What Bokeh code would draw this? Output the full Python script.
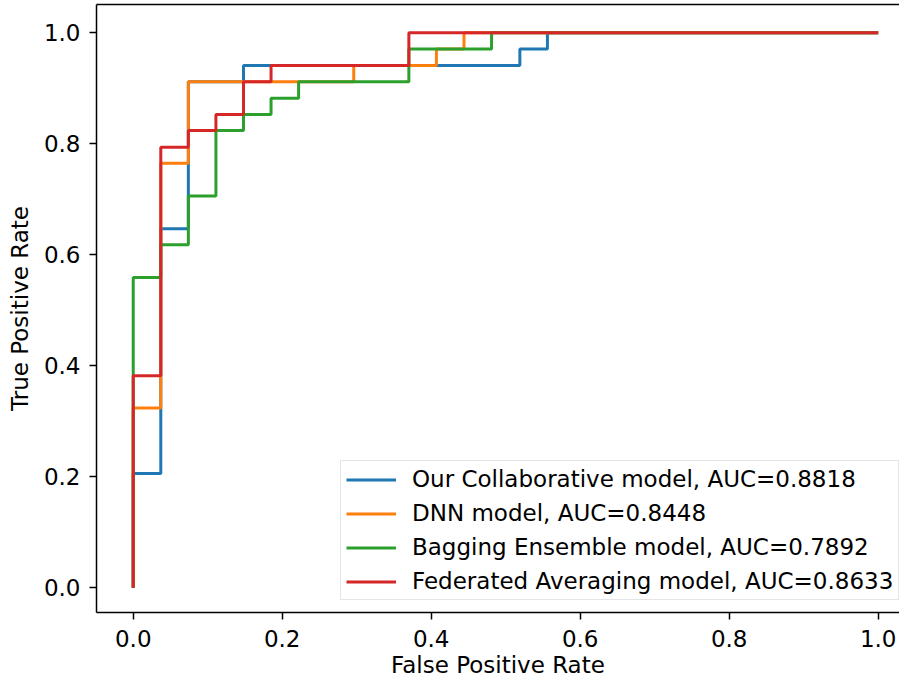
from bokeh.plotting import figure
from bokeh.models import Range1d, FixedTicker, PrintfTickFormatter, LinearAxis
from bokeh.embed import file_html
from bokeh.resources import INLINE

# ROC curve corner points
collab_fpr = [0.0, 0.0, 0.037, 0.037, 0.074, 0.074, 0.148, 0.148, 0.519, 0.519, 0.556, 0.556, 1.0]
collab_tpr = [0.0, 0.206, 0.206, 0.647, 0.647, 0.912, 0.912, 0.941, 0.941, 0.971, 0.971, 1.0, 1.0]

dnn_fpr = [0.0, 0.0, 0.037, 0.037, 0.074, 0.074, 0.296, 0.296, 0.407, 0.407, 0.444, 0.444, 1.0]
dnn_tpr = [0.0, 0.324, 0.324, 0.765, 0.765, 0.912, 0.912, 0.941, 0.941, 0.971, 0.971, 1.0, 1.0]

bag_fpr = [0.0, 0.0, 0.037, 0.037, 0.074, 0.074, 0.111, 0.111, 0.148, 0.148, 0.185, 0.185,
           0.222, 0.222, 0.370, 0.370, 0.481, 0.481, 1.0]
bag_tpr = [0.0, 0.559, 0.559, 0.618, 0.618, 0.706, 0.706, 0.824, 0.824, 0.853, 0.853, 0.882,
           0.882, 0.912, 0.912, 0.971, 0.971, 1.0, 1.0]

fed_fpr = [0.0, 0.0, 0.037, 0.037, 0.074, 0.074, 0.111, 0.111, 0.148, 0.148, 0.185, 0.185, 0.370, 0.370, 1.0]
fed_tpr = [0.0, 0.382, 0.382, 0.794, 0.794, 0.824, 0.824, 0.853, 0.853, 0.912, 0.912, 0.941, 0.941, 1.0, 1.0]

labels = [
    "Our Collaborative model, AUC=0.8818",
    "DNN model, AUC=0.8448",
    "Bagging Ensemble model, AUC=0.7892",
    "Federated Averaging model, AUC=0.8633",
]
colors = ["#1f77b4", "#ff7f0e", "#2ca02c", "#d62728"]
ticks = [0.0, 0.2, 0.4, 0.6, 0.8, 1.0]
x_title = "False Positive Rate"
y_title = "True Positive Rate"

FONT = "DejaVu Sans"
FS = "23px"

x_start, x_end = -0.0493, 1.0286
y_start, y_end = -0.0445, 1.051

p = figure(width=899, height=680, output_backend="svg", toolbar_location=None,
           x_range=Range1d(x_start, x_end), y_range=Range1d(y_start, y_end),
           min_border_left=96, min_border_right=0, min_border_top=4, min_border_bottom=68)
p.outline_line_color = None
p.xgrid.visible = False
p.ygrid.visible = False
p.background_fill_color = "white"

series = [(collab_fpr, collab_tpr), (dnn_fpr, dnn_tpr), (bag_fpr, bag_tpr), (fed_fpr, fed_tpr)]
for (fx, ty), c, lab in zip(series, colors, labels):
    p.line(fx, ty, line_color=c, line_width=3, legend_label=lab)

for ax in (p.xaxis[0], p.yaxis[0]):
    ax.ticker = FixedTicker(ticks=ticks)
    ax.formatter = PrintfTickFormatter(format="%.1f")
    ax.minor_tick_line_color = None
    ax.major_tick_in = 0
    ax.major_tick_out = 7
    ax.major_tick_line_width = 1.5
    ax.axis_line_width = 1.5
    ax.axis_line_color = "black"
    ax.major_tick_line_color = "black"
    ax.major_label_text_font = FONT
    ax.major_label_text_font_size = FS
    ax.major_label_text_color = "black"
    ax.axis_label_text_font = FONT
    ax.axis_label_text_font_size = FS
    ax.axis_label_text_font_style = "normal"
    ax.axis_label_text_color = "black"

p.xaxis[0].axis_label = x_title
p.yaxis[0].axis_label = y_title
p.xaxis[0].major_label_standoff = 10
p.xaxis[0].axis_label_standoff = 2
p.yaxis[0].major_label_standoff = 9
p.yaxis[0].axis_label_standoff = 8

# top spine (axis line only)
top = LinearAxis(ticker=FixedTicker(ticks=ticks), major_tick_out=0, major_tick_in=0,
                 minor_tick_out=0, minor_tick_in=0, major_tick_line_color=None,
                 minor_tick_line_color=None, major_label_text_font_size="0px",
                 major_label_text_color=None,
                 major_label_standoff=0, axis_line_width=1.5, axis_line_color="black")
p.add_layout(top, "above")

lg = p.legend[0]
lg.location = (244, 12)
lg.margin = 0
lg.padding = 5
lg.spacing = 8
lg.glyph_width = 50
lg.glyph_height = 21
lg.label_height = 21
lg.label_standoff = 16
lg.label_text_font = FONT
lg.label_text_font_size = FS
lg.label_text_color = "black"
lg.border_line_color = "#cccccc"
lg.border_line_width = 1.5
lg.background_fill_alpha = 0.8

open("out.html", "w").write(file_html(p, INLINE))
